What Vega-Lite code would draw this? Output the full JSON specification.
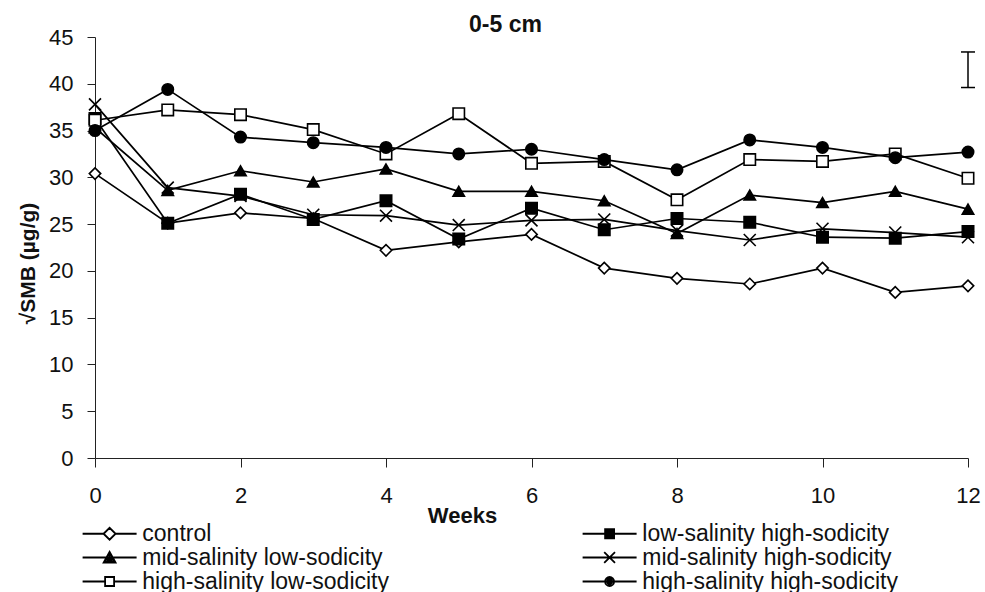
{
  "$schema": "https://vega.github.io/schema/vega-lite/v6.json",
  "width": 873,
  "height": 421,
  "autosize": {"type": "none"},
  "padding": {"left": 95, "top": 37, "right": 17, "bottom": 134},
  "background": "white",
  "config": {
    "font": "Liberation Sans",
    "view": {"stroke": null},
    "axis": {"grid": false, "domainColor": "#222", "tickColor": "#222", "labelColor": "#111", "titleColor": "#111", "labelFont": "Liberation Sans", "titleFont": "Liberation Sans"}
  },
  "title": {"text": "0-5 cm", "font": "Liberation Sans", "fontSize": 23, "fontWeight": "bold", "color": "#111", "anchor": "middle", "dx": -26, "dy": 12, "offset": 1},
  "datasets": {
    "smb": [
      {"week": 0, "series": "control", "value": 30.4},
      {"week": 1, "series": "control", "value": 25.1},
      {"week": 2, "series": "control", "value": 26.2},
      {"week": 3, "series": "control", "value": 25.6},
      {"week": 4, "series": "control", "value": 22.2},
      {"week": 5, "series": "control", "value": 23.1},
      {"week": 6, "series": "control", "value": 23.9},
      {"week": 7, "series": "control", "value": 20.3},
      {"week": 8, "series": "control", "value": 19.2},
      {"week": 9, "series": "control", "value": 18.6},
      {"week": 10, "series": "control", "value": 20.3},
      {"week": 11, "series": "control", "value": 17.7},
      {"week": 12, "series": "control", "value": 18.4},
      {"week": 0, "series": "low-salinity high-sodicity", "value": 36.3},
      {"week": 1, "series": "low-salinity high-sodicity", "value": 25.1},
      {"week": 2, "series": "low-salinity high-sodicity", "value": 28.2},
      {"week": 3, "series": "low-salinity high-sodicity", "value": 25.5},
      {"week": 4, "series": "low-salinity high-sodicity", "value": 27.5},
      {"week": 5, "series": "low-salinity high-sodicity", "value": 23.4},
      {"week": 6, "series": "low-salinity high-sodicity", "value": 26.7},
      {"week": 7, "series": "low-salinity high-sodicity", "value": 24.4},
      {"week": 8, "series": "low-salinity high-sodicity", "value": 25.6},
      {"week": 9, "series": "low-salinity high-sodicity", "value": 25.2},
      {"week": 10, "series": "low-salinity high-sodicity", "value": 23.6},
      {"week": 11, "series": "low-salinity high-sodicity", "value": 23.5},
      {"week": 12, "series": "low-salinity high-sodicity", "value": 24.2},
      {"week": 0, "series": "mid-salinity low-sodicity", "value": 35.3},
      {"week": 1, "series": "mid-salinity low-sodicity", "value": 28.6},
      {"week": 2, "series": "mid-salinity low-sodicity", "value": 30.7},
      {"week": 3, "series": "mid-salinity low-sodicity", "value": 29.5},
      {"week": 4, "series": "mid-salinity low-sodicity", "value": 30.9},
      {"week": 5, "series": "mid-salinity low-sodicity", "value": 28.5},
      {"week": 6, "series": "mid-salinity low-sodicity", "value": 28.5},
      {"week": 7, "series": "mid-salinity low-sodicity", "value": 27.5},
      {"week": 8, "series": "mid-salinity low-sodicity", "value": 24.0},
      {"week": 9, "series": "mid-salinity low-sodicity", "value": 28.1},
      {"week": 10, "series": "mid-salinity low-sodicity", "value": 27.3},
      {"week": 11, "series": "mid-salinity low-sodicity", "value": 28.5},
      {"week": 12, "series": "mid-salinity low-sodicity", "value": 26.6},
      {"week": 0, "series": "mid-salinity high-sodicity", "value": 37.8},
      {"week": 1, "series": "mid-salinity high-sodicity", "value": 28.9},
      {"week": 2, "series": "mid-salinity high-sodicity", "value": 28.0},
      {"week": 3, "series": "mid-salinity high-sodicity", "value": 26.0},
      {"week": 4, "series": "mid-salinity high-sodicity", "value": 25.9},
      {"week": 5, "series": "mid-salinity high-sodicity", "value": 24.9},
      {"week": 6, "series": "mid-salinity high-sodicity", "value": 25.4},
      {"week": 7, "series": "mid-salinity high-sodicity", "value": 25.5},
      {"week": 8, "series": "mid-salinity high-sodicity", "value": 24.3},
      {"week": 9, "series": "mid-salinity high-sodicity", "value": 23.3},
      {"week": 10, "series": "mid-salinity high-sodicity", "value": 24.5},
      {"week": 11, "series": "mid-salinity high-sodicity", "value": 24.1},
      {"week": 12, "series": "mid-salinity high-sodicity", "value": 23.6},
      {"week": 0, "series": "high-salinity low-sodicity", "value": 36.1},
      {"week": 1, "series": "high-salinity low-sodicity", "value": 37.2},
      {"week": 2, "series": "high-salinity low-sodicity", "value": 36.7},
      {"week": 3, "series": "high-salinity low-sodicity", "value": 35.1},
      {"week": 4, "series": "high-salinity low-sodicity", "value": 32.5},
      {"week": 5, "series": "high-salinity low-sodicity", "value": 36.8},
      {"week": 6, "series": "high-salinity low-sodicity", "value": 31.5},
      {"week": 7, "series": "high-salinity low-sodicity", "value": 31.7},
      {"week": 8, "series": "high-salinity low-sodicity", "value": 27.6},
      {"week": 9, "series": "high-salinity low-sodicity", "value": 31.9},
      {"week": 10, "series": "high-salinity low-sodicity", "value": 31.7},
      {"week": 11, "series": "high-salinity low-sodicity", "value": 32.5},
      {"week": 12, "series": "high-salinity low-sodicity", "value": 29.9},
      {"week": 0, "series": "high-salinity high-sodicity", "value": 35.0},
      {"week": 1, "series": "high-salinity high-sodicity", "value": 39.4},
      {"week": 2, "series": "high-salinity high-sodicity", "value": 34.3},
      {"week": 3, "series": "high-salinity high-sodicity", "value": 33.7},
      {"week": 4, "series": "high-salinity high-sodicity", "value": 33.2},
      {"week": 5, "series": "high-salinity high-sodicity", "value": 32.5},
      {"week": 6, "series": "high-salinity high-sodicity", "value": 33.0},
      {"week": 7, "series": "high-salinity high-sodicity", "value": 31.9},
      {"week": 8, "series": "high-salinity high-sodicity", "value": 30.8},
      {"week": 9, "series": "high-salinity high-sodicity", "value": 34.0},
      {"week": 10, "series": "high-salinity high-sodicity", "value": 33.2},
      {"week": 11, "series": "high-salinity high-sodicity", "value": 32.1},
      {"week": 12, "series": "high-salinity high-sodicity", "value": 32.7}
    ],
    "err": [{"week": 12, "low": 39.6, "high": 43.4}]
  },
  "layer": [
    {
      "data": {"name": "smb"},
      "mark": {"type": "line", "color": "black", "strokeWidth": 1.7},
      "encoding": {
        "x": {"field": "week", "type": "quantitative", "title": "Weeks",
          "scale": {"domain": [0, 12], "nice": false},
          "axis": {"values": [0, 2, 4, 6, 8, 10, 12], "format": "d", "tickSize": 9, "labelFontSize": 22, "labelPadding": 18, "labelFlush": false, "titleFontSize": 22, "titleFontWeight": "bold", "titleX": 367, "titleY": 47}},
        "y": {"field": "value", "type": "quantitative", "title": "√SMB (µg/g)",
          "scale": {"domain": [0, 45], "nice": false},
          "axis": {"values": [0, 5, 10, 15, 20, 25, 30, 35, 40, 45], "format": "d", "tickSize": 8, "labelFontSize": 22, "labelPadding": 14, "titleFontSize": 21, "titleFontWeight": "bold", "titleX": -57, "titleY": 226}},
        "detail": {"field": "series", "type": "nominal"},
        "order": {"field": "week", "type": "quantitative"}
      }
    },
    {
      "data": {"name": "smb"},
      "mark": {"type": "point", "filled": true, "stroke": "black", "strokeWidth": 1.6, "size": 130, "opacity": 1},
      "encoding": {
        "x": {"field": "week", "type": "quantitative", "title": "Weeks"},
        "y": {"field": "value", "type": "quantitative", "title": "√SMB (µg/g)"},
        "shape": {"field": "series", "type": "nominal", "legend": null,
          "scale": {"domain": ["control", "low-salinity high-sodicity", "mid-salinity low-sodicity", "mid-salinity high-sodicity", "high-salinity low-sodicity", "high-salinity high-sodicity"],
            "range": ["diamond", "square", "triangle-up", "M-1.05,-1.05L1.05,1.05M-1.05,1.05L1.05,-1.05", "square", "circle"]}},
        "fill": {"field": "series", "type": "nominal", "legend": null,
          "scale": {"domain": ["control", "low-salinity high-sodicity", "mid-salinity low-sodicity", "mid-salinity high-sodicity", "high-salinity low-sodicity", "high-salinity high-sodicity"],
            "range": ["white", "black", "black", "white", "white", "black"]}}
      }
    },
    {
      "data": {"name": "smb"},
      "mark": {"type": "point", "filled": false, "color": "black", "strokeWidth": 1.8, "opacity": 0},
      "encoding": {
        "x": {"field": "week", "type": "quantitative", "title": "Weeks"},
        "y": {"field": "value", "type": "quantitative", "title": "√SMB (µg/g)"},
        "shape": {"field": "series", "type": "nominal",
          "scale": {"domain": ["control", "low-salinity high-sodicity", "mid-salinity low-sodicity", "mid-salinity high-sodicity", "high-salinity low-sodicity", "high-salinity high-sodicity"],
            "range": [
              "M-4.5,0H-1M1,0H4.5M-1,0L0,-1L1,0L0,1ZM-1,0L0,1L1,0L0,-1Z",
              "M-4.5,0H4.5M-0.75,-0.75H0.75V0.75H-0.75ZM-0.75,-0.45H0.75M-0.75,-0.15H0.75M-0.75,0.15H0.75M-0.75,0.45H0.75",
              "M-4.5,0H4.5M-1,0.87L0,-0.95L1,0.87ZM-0.75,0.6H0.75M-0.5,0.3H0.5M-0.35,0H0.35M-0.2,-0.3H0.2M-0.08,-0.6H0.08",
              "M-4.5,0H4.5M-0.9,-0.9L0.9,0.9M-0.9,0.9L0.9,-0.9",
              "M-4.5,0H-0.75M0.75,0H4.5M-0.75,-0.75H0.75V0.75H-0.75ZM-0.75,-0.75V0.75H0.75V-0.75Z",
              "M-4.5,0H4.5M-0.75,0A0.75,0.75 0 1,0 0.75,0A0.75,0.75 0 1,0 -0.75,0ZM-0.42,0A0.42,0.42 0 1,0 0.42,0A0.42,0.42 0 1,0 -0.42,0ZM-0.12,0A0.12,0.12 0 1,0 0.12,0A0.12,0.12 0 1,0 -0.12,0Z"
            ]},
          "legend": {"title": null, "orient": "none", "legendX": -17, "legendY": 485, "direction": "horizontal", "columns": 2, "columnPadding": 189, "rowPadding": 0,
            "symbolSize": 144, "symbolStrokeWidth": 1.8, "symbolOffset": 20.1, "symbolFillColor": "black", "symbolStrokeColor": "black",
            "labelFontSize": 23, "labelFont": "Liberation Sans", "labelColor": "#111", "labelLimit": 0, "labelOffset": 21.2, "padding": 0}
        }
      }
    },
    {
      "data": {"name": "err"},
      "mark": {"type": "rule", "color": "black", "strokeWidth": 1.5},
      "encoding": {
        "x": {"field": "week", "type": "quantitative", "title": "Weeks"},
        "y": {"field": "low", "type": "quantitative", "title": "√SMB (µg/g)"},
        "y2": {"field": "high"}
      }
    },
    {
      "data": {"name": "err"},
      "mark": {"type": "tick", "orient": "horizontal", "color": "black", "size": 14, "thickness": 1.5, "opacity": 1},
      "encoding": {
        "x": {"field": "week", "type": "quantitative", "title": "Weeks"},
        "y": {"field": "low", "type": "quantitative", "title": "√SMB (µg/g)"}
      }
    },
    {
      "data": {"name": "err"},
      "mark": {"type": "tick", "orient": "horizontal", "color": "black", "size": 14, "thickness": 1.5, "opacity": 1},
      "encoding": {
        "x": {"field": "week", "type": "quantitative", "title": "Weeks"},
        "y": {"field": "high", "type": "quantitative", "title": "√SMB (µg/g)"}
      }
    }
  ],
  "resolve": {"scale": {"shape": "independent", "fill": "independent"}}
}
